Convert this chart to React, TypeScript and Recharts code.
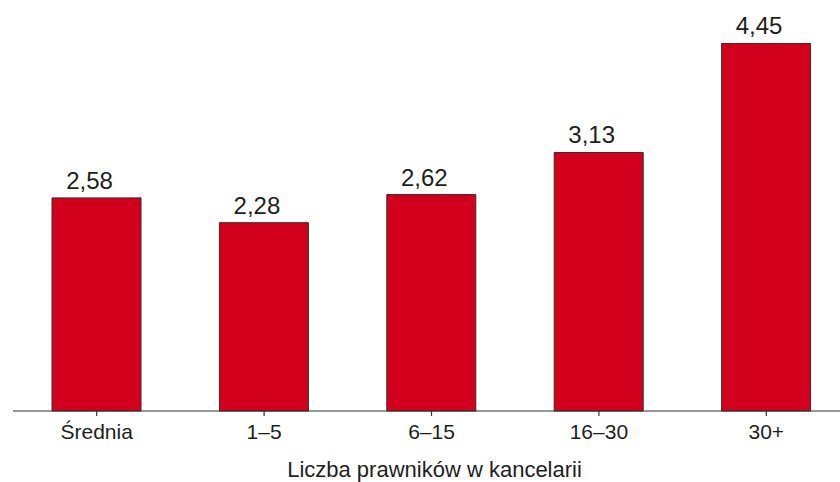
import React from "react";
import { BarChart, Bar, XAxis, YAxis, LabelList } from "recharts";

// Categories: firm size by number of lawyers
const categories: string[] = ["Średnia", "1–5", "6–15", "16–30", "30+"];
// Average score per category
const values: number[] = [2.58, 2.28, 2.62, 3.13, 4.45];

const data = categories.map((name, i) => ({ name, value: values[i] }));

const FONT = "'Liberation Sans', Arial, Helvetica, sans-serif";
const TEXT = "#1e1e1e";

const formatComma = (v: number | string) =>
  typeof v === "number" ? v.toFixed(2).replace(".", ",") : String(v);

export default function App() {
  return (
    <div
      style={{
        position: "absolute",
        left: 0,
        top: -2,
        width: 840,
        height: 484,
        overflow: "hidden",
        background: "#fff",
      }}
    >
      <BarChart
        width={860}
        height={484}
        data={data}
        margin={{ top: 0, right: 10, bottom: 0, left: 13 }}
        barCategoryGap={0}
      >
        <YAxis hide domain={[0, 5]} />
        <XAxis
          dataKey="name"
          height={71}
          axisLine={{ stroke: "#333", strokeWidth: 1.2 }}
          tickLine={{ stroke: "#333", strokeWidth: 1.2 }}
          tickSize={5}
          tickMargin={8}
          interval={0}
          tick={{ fontFamily: FONT, fontSize: 21, fill: TEXT }}
          label={{
            value: "Liczba prawników w kancelarii",
            position: "insideBottom",
            offset: 5,
            dx: 3,
            style: { fontFamily: FONT, fontSize: 22, fill: TEXT },
          }}
        />
        <Bar
          dataKey="value"
          fill="#d2001c"
          stroke="#3a2a2a"
          strokeWidth={1}
          barSize={89}
          isAnimationActive={false}
        >
          <LabelList
            dataKey="value"
            position="top"
            offset={9}
            dx={-7}
            formatter={formatComma}
            style={{ fontFamily: FONT, fontSize: 24, fill: TEXT }}
          />
        </Bar>
      </BarChart>
    </div>
  );
}
